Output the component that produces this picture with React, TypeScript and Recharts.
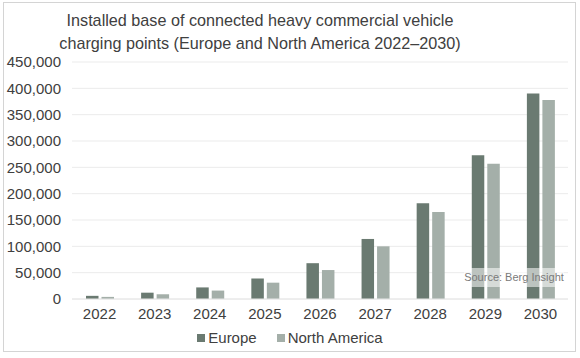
import React from "react";
import { BarChart, Bar, XAxis, YAxis, CartesianGrid, Legend } from "recharts";

const years = ["2022", "2023", "2024", "2025", "2026", "2027", "2028", "2029", "2030"];
const europe = [6000, 12000, 22000, 39000, 68000, 114000, 182000, 273000, 390000];
const northAmerica = [4000, 9000, 16000, 31000, 55000, 100000, 165000, 257000, 378000];
const yTicks = [0, 50000, 100000, 150000, 200000, 250000, 300000, 350000, 400000, 450000];

const EUROPE_COLOR = "#6a7a71";
const NA_COLOR = "#a4afa9";
const TEXT_COLOR = "#404040";
const FONT = "'Liberation Sans', Arial, sans-serif";

const chartData = years.map((year, i) => ({
  year,
  europe: europe[i],
  northAmerica: northAmerica[i],
}));

const legendItems = [
  { name: "Europe", color: EUROPE_COLOR },
  { name: "North America", color: NA_COLOR },
];

const LegendContent = () => (
  <div style={{ display: "flex", justifyContent: "center", gap: 20, fontFamily: FONT, fontSize: 15, color: TEXT_COLOR }}>
    {legendItems.map((item) => (
      <div key={item.name} style={{ display: "flex", alignItems: "center" }}>
        <span style={{ display: "inline-block", width: 8, height: 8, background: item.color, marginRight: 3 }} />
        <span>{item.name}</span>
      </div>
    ))}
  </div>
);

const App: React.FC = () => {
  return (
    <div style={{ position: "absolute", left: 0, top: 0, width: 580, height: 358, background: "#fff" }}>
      <div
        style={{
          position: "absolute",
          left: 3,
          top: 2,
          width: 573,
          height: 350,
          border: "1px solid #d4d4d4",
          boxSizing: "border-box",
        }}
      />
      <div
        style={{
          position: "absolute",
          left: 0,
          top: 9,
          width: 520,
          textAlign: "center",
          fontFamily: FONT,
          fontSize: 16.2,
          lineHeight: "23px",
          color: TEXT_COLOR,
        }}
      >
        Installed base of connected heavy commercial vehicle
        <br />
        charging points (Europe and North America 2022–2030)
      </div>
      <BarChart
        width={580}
        height={358}
        data={chartData}
        margin={{ top: 62, right: 12, bottom: 0, left: 0 }}
        barSize={12.5}
        barGap={3}
      >
        <CartesianGrid vertical={false} stroke="#ebebeb" />
        <XAxis
          dataKey="year"
          height={30}
          axisLine={{ stroke: "#e6e6e6" }}
          tickLine={false}
          tickMargin={3}
          tick={{ fill: TEXT_COLOR, fontSize: 15, fontFamily: FONT }}
        />
        <YAxis
          width={72}
          domain={[0, 450000]}
          ticks={yTicks}
          axisLine={false}
          tickLine={false}
          tickMargin={5}
          tickFormatter={(v: number) => v.toLocaleString("en-US")}
          tick={{ fill: TEXT_COLOR, fontSize: 15, fontFamily: FONT }}
        />
        <Legend
          height={29}
          verticalAlign="bottom"
          content={<LegendContent />}
          wrapperStyle={{ top: 329, left: 0, width: 580 }}
        />
        <Bar dataKey="europe" name="Europe" fill={EUROPE_COLOR} isAnimationActive={false} />
        <Bar dataKey="northAmerica" name="North America" fill={NA_COLOR} isAnimationActive={false} />
      </BarChart>
      <div
        style={{
          position: "absolute",
          left: 464,
          top: 268,
          width: 100,
          height: 19,
          background: "rgba(255,255,255,0.55)",
          fontFamily: FONT,
          fontSize: 11,
          lineHeight: "19px",
          color: "#7a7a7a",
          textAlign: "center",
          whiteSpace: "nowrap",
        }}
      >
        Source: Berg Insight
      </div>
    </div>
  );
};

export default App;
